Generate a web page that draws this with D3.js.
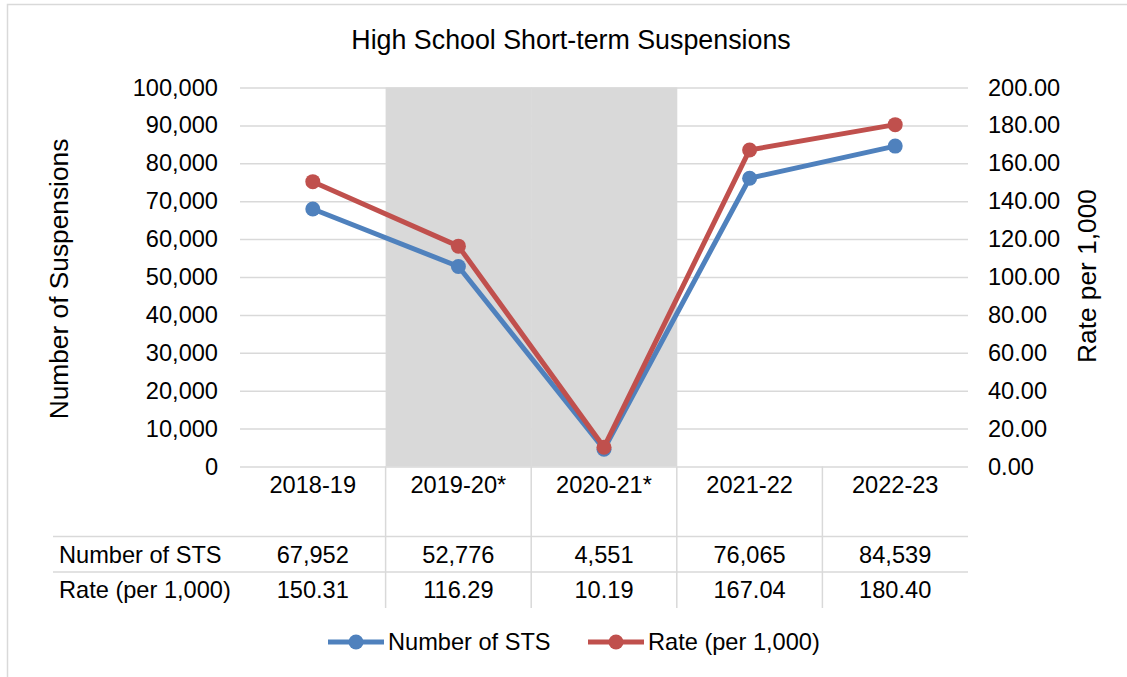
<!DOCTYPE html>
<html>
<head>
<meta charset="utf-8">
<script src="https://cdn.jsdelivr.net/npm/d3@7"></script>
<style>
  body { margin: 0; background: #fff; }
  text { font-family: "Liberation Sans", Arial, sans-serif; fill: #000; }
</style>
</head>
<body>
<svg id="chart" width="1127" height="677"></svg>
<script>
// data
const categories = ["2018-19", "2019-20*", "2020-21*", "2021-22", "2022-23"];
const stsCount = [67952, 52776, 4551, 76065, 84539];
const stsRate = [150.31, 116.29, 10.19, 167.04, 180.40];
const shadedCats = ["2019-20*", "2020-21*"];
const countTicks = [0, 10000, 20000, 30000, 40000, 50000, 60000, 70000, 80000, 90000, 100000];
const rateTicks = [0, 20, 40, 60, 80, 100, 120, 140, 160, 180, 200];

const blue = "#4f81bd";
const red = "#c0504d";
const grid = "#d9d9d9";
const fs = "23.6px";

const svg = d3.select("#chart");

// chart frame (right/bottom edges are cropped in the reference)
svg.append("rect")
  .attr("x", 7.5).attr("y", 4.5)
  .attr("width", 1300).attr("height", 800)
  .attr("fill", "none")
  .attr("stroke", grid)
  .attr("stroke-width", 1.5);

const plotL = 240, plotR = 968, plotT = 87.5, plotB = 466.5;

const x = d3.scaleBand().domain(categories).range([plotL, plotR]);
const yL = d3.scaleLinear().domain([0, 100000]).range([plotB, plotT]);
const yR = d3.scaleLinear().domain([0, 200]).range([plotB, plotT]);
const cx = c => x(c) + x.bandwidth() / 2;

// shaded years
svg.append("g").selectAll("rect")
  .data(shadedCats)
  .join("rect")
  .attr("x", d => x(d))
  .attr("y", plotT)
  .attr("width", x.bandwidth() + 0.5)
  .attr("height", plotB - plotT)
  .attr("fill", "#d9d9d9");

// left axis with gridlines
const gL = svg.append("g")
  .attr("transform", `translate(${plotL},0)`)
  .call(d3.axisLeft(yL)
    .tickValues(countTicks)
    .tickFormat(d3.format(","))
    .tickSize(-(plotR - plotL))
    .tickPadding(22));
gL.select(".domain").remove();
gL.selectAll(".tick line").attr("stroke", grid).attr("stroke-width", 1.5);
gL.selectAll(".tick text").style("font-size", fs).attr("fill", "#000");

// right axis
const gR = svg.append("g")
  .attr("transform", `translate(${plotR},0)`)
  .call(d3.axisRight(yR)
    .tickValues(rateTicks)
    .tickFormat(d3.format(".2f"))
    .tickSize(0)
    .tickPadding(20));
gR.select(".domain").remove();
gR.selectAll(".tick text").style("font-size", fs).attr("fill", "#000");

// titles
svg.append("text")
  .attr("x", 571).attr("y", 49)
  .attr("text-anchor", "middle")
  .style("font-size", "26.8px")
  .text("High School Short-term Suspensions");

svg.append("text")
  .attr("transform", "translate(68,279) rotate(-90)")
  .attr("text-anchor", "middle")
  .style("font-size", "26.3px")
  .text("Number of Suspensions");

svg.append("text")
  .attr("transform", "translate(1096,276) rotate(-90)")
  .attr("text-anchor", "middle")
  .style("font-size", "26.3px")
  .text("Rate per 1,000");

// data table under the axis
const table = svg.append("g");
const tableLeft = 53, tableBottom = 608;
const rowLines = [536.5, 572];

table.selectAll("line.row")
  .data(rowLines)
  .join("line")
  .attr("class", "row")
  .attr("x1", tableLeft).attr("x2", plotR)
  .attr("y1", d => d).attr("y2", d => d)
  .attr("stroke", grid).attr("stroke-width", 1.5);

table.selectAll("line.col")
  .data(categories.slice(1))
  .join("line")
  .attr("class", "col")
  .attr("x1", d => x(d)).attr("x2", d => x(d))
  .attr("y1", plotB).attr("y2", tableBottom)
  .attr("stroke", grid).attr("stroke-width", 1.5);

table.selectAll("text.cat")
  .data(categories)
  .join("text")
  .attr("class", "cat")
  .attr("x", d => cx(d))
  .attr("y", 493)
  .attr("text-anchor", "middle")
  .style("font-size", fs)
  .text(d => d);

const rows = [
  { label: "Number of STS", values: stsCount.map(d3.format(",")), y: 563 },
  { label: "Rate (per 1,000)", values: stsRate.map(d3.format(".2f")), y: 598 }
];

rows.forEach(r => {
  table.append("text")
    .attr("x", 59).attr("y", r.y)
    .style("font-size", fs)
    .text(r.label);
  table.append("g").selectAll("text")
    .data(r.values)
    .join("text")
    .attr("x", (d, i) => cx(categories[i]))
    .attr("y", r.y)
    .attr("text-anchor", "middle")
    .style("font-size", fs)
    .text(d => d);
});

// series
const series = [
  { name: "Number of STS", values: stsCount, y: yL, color: blue },
  { name: "Rate (per 1,000)", values: stsRate, y: yR, color: red }
];

series.forEach(s => {
  const pts = s.values.map((v, i) => [cx(categories[i]), s.y(v)]);
  svg.append("path")
    .attr("d", d3.line()(pts))
    .attr("fill", "none")
    .attr("stroke", s.color)
    .attr("stroke-width", 5)
    .attr("stroke-linejoin", "round");
  svg.append("g").selectAll("circle")
    .data(pts)
    .join("circle")
    .attr("cx", d => d[0])
    .attr("cy", d => d[1])
    .attr("r", 7.5)
    .attr("fill", s.color);
});

// legend
const legendItems = [
  { name: "Number of STS", color: blue, x: 328 },
  { name: "Rate (per 1,000)", color: red, x: 588 }
];
const ly = 642;
const leg = svg.append("g");
legendItems.forEach(l => {
  leg.append("line")
    .attr("x1", l.x).attr("x2", l.x + 56)
    .attr("y1", ly).attr("y2", ly)
    .attr("stroke", l.color).attr("stroke-width", 5);
  leg.append("circle")
    .attr("cx", l.x + 28).attr("cy", ly).attr("r", 7.5)
    .attr("fill", l.color);
  leg.append("text")
    .attr("x", l.x + 60).attr("y", ly + 8.3)
    .style("font-size", fs)
    .text(l.name);
});
</script>
</body>
</html>
